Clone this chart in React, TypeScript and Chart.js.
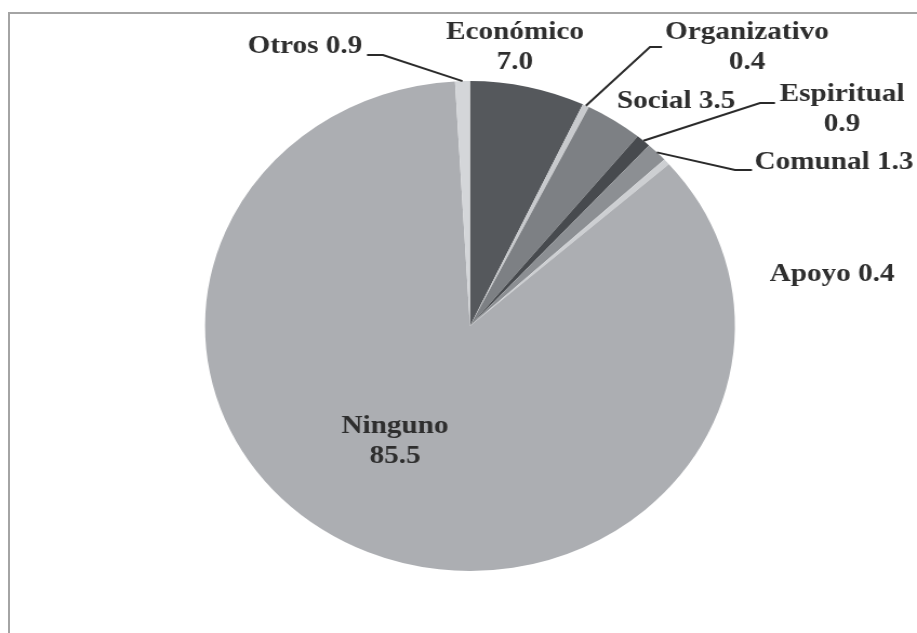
import React, { useEffect, useRef } from 'react';
import { Chart, registerables } from 'chart.js';

Chart.register(...registerables);

// ---- data ----
const categories = ['Económico', 'Organizativo', 'Social', 'Espiritual', 'Comunal', 'Apoyo', 'Ninguno', 'Otros'];
const values = [7.0, 0.4, 3.5, 0.9, 1.3, 0.4, 85.5, 0.9];
const sliceColors = ['#55585c', '#c8cacd', '#7d8084', '#474a4e', '#8c8f93', '#cdcfd2', '#acaeb2', '#d4d6d9'];
// whether the label is split in two lines (name / value)
const twoLine = [true, true, false, true, false, false, true, false];

// ---- layout (page pixels) ----
const STRETCH = 917 / 848; // horizontal stretch of the whole figure
const TEXT_STRETCH = 1.08; // extra horizontal stretch of the label text
const LINE_H = 30;
type LabelPos = { x: number; y: number; elbow?: [number, number]; end?: [number, number] };
const labelPos: LabelPos[] = [
  { x: 515, y: 33 },
  { x: 747, y: 33, elbow: [650, 47], end: [662, 47] },
  { x: 676, y: 102 },
  { x: 842, y: 95, elbow: [760, 103], end: [775, 103] },
  { x: 834, y: 163, elbow: [735, 170], end: [752, 170] },
  { x: 832, y: 275 },
  { x: 395, y: 427 },
  { x: 305, y: 47, elbow: [383, 55], end: [367, 55] },
];

const labelPlugin = {
  id: 'pieLabels',
  afterDraw(chart: any) {
    const ctx: CanvasRenderingContext2D = chart.ctx;
    const meta = chart.getDatasetMeta(0);
    ctx.save();
    ctx.font = 'bold 25px "Liberation Serif", "Times New Roman", serif';
    ctx.fillStyle = '#2e2e2e';
    ctx.strokeStyle = '#2a2a2a';
    ctx.lineWidth = 2;
    ctx.textAlign = 'center';
    ctx.textBaseline = 'middle';
    categories.forEach((cat, i) => {
      const L = labelPos[i];
      const arc = meta.data[i];
      if (!arc) return;
      const p = arc.getProps(['x', 'y', 'startAngle', 'endAngle', 'outerRadius'], true);
      if (L.elbow && L.end) {
        const mid = (p.startAngle + p.endAngle) / 2;
        const sx = p.x + Math.cos(mid) * p.outerRadius;
        const sy = p.y + Math.sin(mid) * p.outerRadius;
        ctx.beginPath();
        ctx.moveTo(sx, sy);
        ctx.lineTo(L.elbow[0] / STRETCH, L.elbow[1]);
        ctx.lineTo(L.end[0] / STRETCH, L.end[1]);
        ctx.stroke();
      }
      const v = values[i].toFixed(1);
      const lines = twoLine[i] ? [cat, v] : [cat + ' ' + v];
      lines.forEach((t, j) => {
        ctx.save();
        ctx.translate(L.x / STRETCH, L.y + j * LINE_H);
        ctx.scale(TEXT_STRETCH, 1);
        ctx.fillText(t, 0, 0);
        ctx.restore();
      });
    });
    ctx.restore();
  },
};

export default function App() {
  const ref = useRef<HTMLCanvasElement | null>(null);
  useEffect(() => {
    if (!ref.current) return;
    const chart = new Chart(ref.current, {
      type: 'pie',
      data: {
        labels: categories,
        datasets: [
          {
            data: values,
            backgroundColor: sliceColors,
            borderWidth: 0,
          },
        ],
      },
      options: {
        animation: false,
        responsive: false,
        maintainAspectRatio: false,
        devicePixelRatio: 1,
        layout: { padding: { top: 81, bottom: 62, left: 189.6, right: 168.4 } },
        plugins: {
          legend: { display: false },
          tooltip: { enabled: false },
        },
      },
      plugins: [labelPlugin],
    });
    return () => chart.destroy();
  }, []);

  return (
    <div>
      <div
        style={{
          position: 'fixed',
          left: 8,
          top: 12,
          width: 940,
          height: 660,
          borderLeft: '2px solid #a4a4a4',
          borderTop: '2px solid #a4a4a4',
          boxSizing: 'border-box',
        }}
      />
      <div
        style={{
          position: 'fixed',
          left: 0,
          top: 0,
          width: 848,
          height: 633,
          transform: `scaleX(${STRETCH})`,
          transformOrigin: '0 0',
        }}
      >
        <canvas ref={ref} width={848} height={633} style={{ width: '848px', height: '633px', display: 'block' }} />
      </div>
    </div>
  );
}
